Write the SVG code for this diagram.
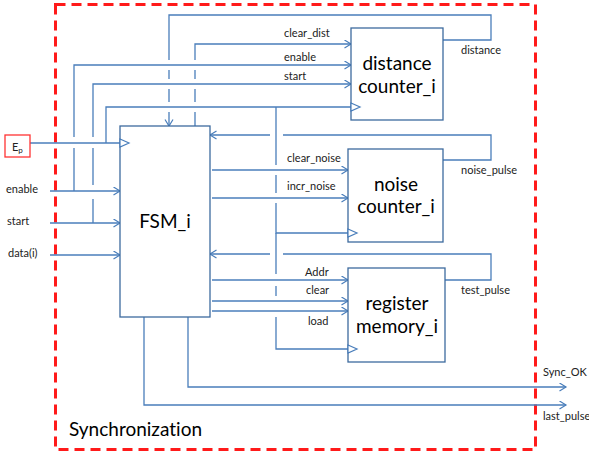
<svg xmlns="http://www.w3.org/2000/svg" width="589" height="456" viewBox="0 0 589 456">
<defs>
<marker id="arr" markerUnits="userSpaceOnUse" markerWidth="10" markerHeight="10" refX="7" refY="4.5" orient="auto">
<path d="M0.5,0.5 L7,4.5 L0.5,8.5" fill="none" stroke="#4a7ebb" stroke-width="1.2"/>
</marker>
</defs>
<style>
text{font-variant-ligatures:none}
.frame{fill:none;stroke:#ff1a1a;stroke-width:3;stroke-dasharray:10 6}
.box{fill:#ffffff;stroke:#3d6a9e;stroke-width:1.3}
.ln{fill:none;stroke:#4a7ebb;stroke-width:1.3}
.ar{marker-end:url(#arr)}
.clk{fill:#ffffff;stroke:#4a7ebb;stroke-width:1.2}
.big{font-family:Lato,"Liberation Sans",sans-serif;font-size:19px;fill:#000;text-anchor:middle}
.sm{font-family:Lato,"Liberation Sans",sans-serif;font-size:11px;fill:#222}
.title{font-family:Lato,"Liberation Sans",sans-serif;font-size:19px;fill:#000}
</style>
<rect class="frame" x="55.5" y="4.5" width="480" height="445"/>
<text class="title" x="69" y="436">Synchronization</text>

<g id="connectors">
<path class="ln ar" d="M443,40 H491 V15 H169 V60 M169,70 V79 M169,89 V102 M169,112 V126"/>
<path class="ln ar" d="M195,126 V112 M195,102 V89 M195,79 V70 M195,60 V44 H351"/>
<path class="ln ar" d="M50,191 H120"/>
<path class="ln ar" d="M74,191 V148 M74,137 V65 H351"/>
<path class="ln ar" d="M50,223 H120"/>
<path class="ln ar" d="M93,223 V199 M93,185 V148 M93,137 V84 H351"/>
<path class="ln ar" d="M50,255 H120"/>
<path class="ln" d="M30,143 H120"/>
<path class="ln" d="M106,143 V107 H351"/>
<path class="ln" d="M276,107 V165 M276,175 V193 M276,203 V233 H348"/>
<path class="ln" d="M276,233 V274 M276,286 V296 M276,317 V349 H348"/>
<path class="ln ar" d="M443,160 H491 V135 H283 M270,135 H210"/>
<path class="ln ar" d="M445,280 H491 V254 H283 M270,254 H210"/>
<path class="ln ar" d="M212,170 H348"/>
<path class="ln ar" d="M212,198 H348"/>
<path class="ln ar" d="M212,280 H348"/>
<path class="ln ar" d="M212,301 H348"/>
<path class="ln ar" d="M212,311 H348"/>
<path class="ln ar" d="M188,317 V387 H566"/>
<path class="ln ar" d="M144,317 V405 H566"/>
</g>

<g id="ep">
<rect x="5" y="135" width="25" height="22" fill="#fff" stroke="#ff3333" stroke-width="1.3"/>
<text class="sm" x="12" y="151" font-size="12px">E<tspan font-size="8px" dy="2">p</tspan></text>
</g>

<g id="fsm">
<rect class="box" x="120" y="126" width="90" height="191"/>
<polygon class="clk" points="120,139 129,143 120,147"/>
<text class="big" x="165" y="228">FSM_i</text>
</g>

<g id="distance_counter">
<rect class="box" x="351" y="28" width="92" height="92"/>
<polygon class="clk" points="351,103 360,107 351,111"/>
<text class="big" x="397" y="70">distance</text>
<text class="big" x="397" y="93">counter_i</text>
</g>

<g id="noise_counter">
<rect class="box" x="348" y="149" width="95" height="93"/>
<polygon class="clk" points="348,229 357,233 348,237"/>
<text class="big" x="396" y="191">noise</text>
<text class="big" x="396" y="213">counter_i</text>
</g>

<g id="register_memory">
<rect class="box" x="348" y="268" width="97" height="94"/>
<polygon class="clk" points="348,345 357,349 348,353"/>
<text class="big" x="397" y="310">register</text>
<text class="big" x="397" y="333">memory_i</text>
</g>

<g id="labels">
<text class="sm" x="284" y="37">clear_dist</text>
<text class="sm" x="284" y="61">enable</text>
<text class="sm" x="284" y="80">start</text>
<text class="sm" x="461" y="54">distance</text>
<text class="sm" x="287" y="162">clear_noise</text>
<text class="sm" x="287" y="190">incr_noise</text>
<text class="sm" x="461" y="174">noise_pulse</text>
<text class="sm" x="305" y="276">Addr</text>
<text class="sm" x="306" y="294">clear</text>
<text class="sm" x="308" y="325">load</text>
<text class="sm" x="461" y="294">test_pulse</text>
<text class="sm" x="543" y="376">Sync_OK</text>
<text class="sm" x="543" y="420">last_pulse</text>
<text class="sm" x="6" y="193">enable</text>
<text class="sm" x="7" y="225">start</text>
<text class="sm" x="8" y="257">data(i)</text>
</g>
</svg>
